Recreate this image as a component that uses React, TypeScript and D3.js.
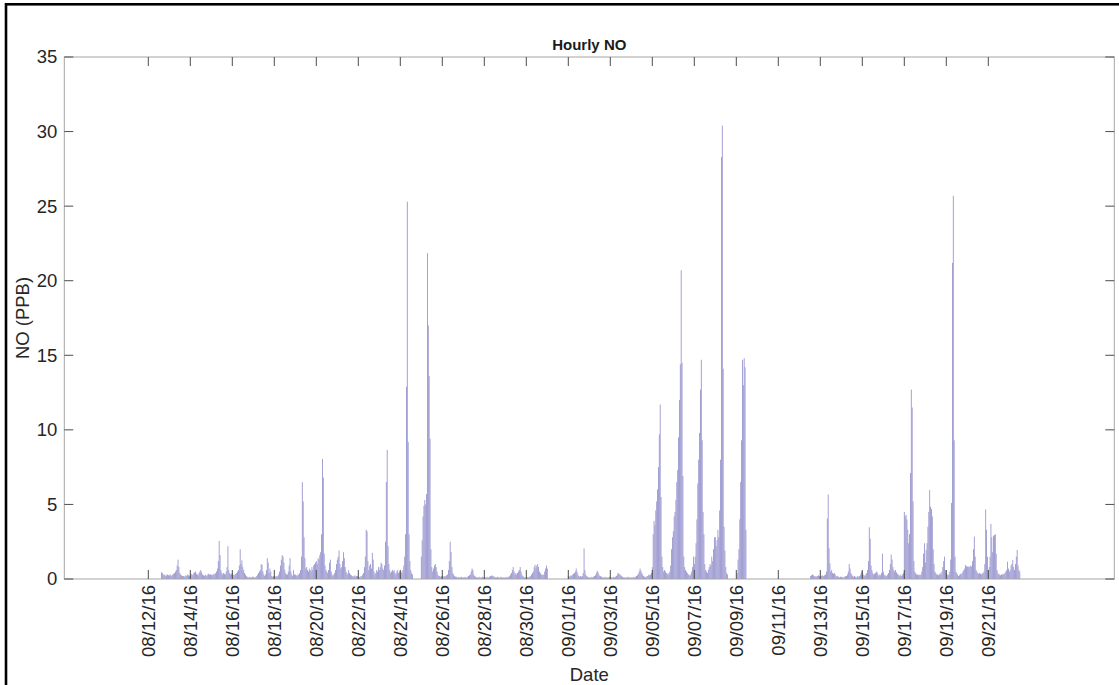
import React from "react";
import * as d3 from "d3";

const N = null;

// Hourly NO (ppb), 24 values per day (hour 0..23), null = no data
const aug12 = [N,N,N,N,N,N,N,N,N,N,N,N,N,N,N,0.45,0.4,0.3,0.25,0.3,0.2,0.25,0.3,0.25];
const aug13 = [0.25,0.3,0.2,0.25,0.3,0.35,0.4,0.5,0.6,0.9,1.3,0.8,0.4,0.3,0.25,0.2,0.2,0.15,0.2,0.25,0.2,0.3,0.25,0.2];
const aug14 = [0.3,0.35,0.25,0.3,0.4,0.45,0.5,0.35,0.3,0.25,0.4,0.5,0.6,0.45,0.3,0.25,0.2,0.3,0.25,0.2,0.3,0.35,0.3,0.3];
const aug15 = [0.3,0.25,0.3,0.35,0.3,0.4,0.5,0.7,1.2,2.55,1.6,0.6,0.4,0.3,0.4,0.35,0.3,0.5,0.8,2.2,0.6,0.4,0.3,0.35];
const aug16 = [0.4,0.3,0.25,0.3,0.35,0.4,0.5,0.6,0.9,2.0,1.0,1.25,0.8,0.6,0.4,0.3,0.2,0.15,0.1,0.1,0.15,0.1,0.1,0.15];
const aug17 = [0.15,0.1,0.1,0.15,0.2,0.3,0.4,0.5,0.6,1.0,0.95,0.5,0.3,0.2,0.3,0.6,1.4,1.1,0.4,0.7,0.5,0.2,0.15,0.2];
const aug18 = [0.2,0.15,0.2,0.15,0.2,0.3,0.5,0.9,1.3,1.6,1.5,1.1,0.6,0.4,0.3,0.3,0.5,0.9,1.4,0.5,0.3,0.2,0.6,0.3];
const aug19 = [0.3,0.25,0.2,0.3,0.3,0.4,0.6,1.5,6.5,5.2,2.8,1.4,0.7,0.8,0.6,0.5,0.7,0.6,0.5,0.8,0.6,0.9,1.0,1.1];
const aug20 = [1.2,1.0,1.4,1.3,1.6,1.8,3.0,8.05,6.8,1.7,0.9,0.6,0.5,0.4,0.6,1.1,1.3,0.5,0.3,0.2,0.3,0.4,0.6,1.0];
const aug21 = [1.3,1.5,1.9,1.0,0.7,0.8,1.2,1.8,1.4,0.8,0.5,0.4,0.3,0.6,0.4,0.3,0.25,0.2,0.15,0.2,0.25,0.15,0.2,0.2];
const aug22 = [0.1,0.15,0.1,0.2,0.2,0.3,0.4,0.8,1.5,3.3,3.2,1.2,0.6,0.9,1.0,0.7,1.75,1.3,0.5,0.3,0.4,0.6,0.5,0.8];
const aug23 = [0.6,0.8,1.1,1.0,0.7,0.6,0.9,2.5,6.5,8.65,2.2,1.0,0.6,0.4,0.5,0.6,0.5,0.6,0.4,0.3,0.5,0.6,0.4,0.5];
const aug24 = [0.4,0.5,0.4,0.6,0.9,1.5,3.0,12.9,25.3,9.2,3.0,1.2,0.6,0.4,0.3,N,N,N,N,N,N,N,N,N];
const aug25 = [1.5,2.6,4.2,4.9,5.3,5.0,5.7,21.85,17.0,13.6,9.4,2.0,0.8,0.5,0.7,0.9,1.0,0.8,0.5,0.3,0.2,0.2,0.15,0.2];
const aug26 = [0.2,0.15,0.2,0.15,0.2,0.25,0.3,0.6,1.2,2.5,1.8,0.8,0.4,0.3,0.2,0.15,0.15,0.1,0.1,0.15,0.1,0.1,0.15,0.1];
const aug27 = [0.1,0.1,0.15,0.1,0.1,0.15,0.2,0.25,0.3,0.5,0.7,0.6,0.3,0.2,0.15,0.1,0.1,0.1,0.15,0.1,0.1,0.1,0.15,0.1];
const aug28 = [0.1,0.1,0.1,0.15,0.1,0.1,0.15,0.2,0.2,0.25,0.2,0.15,0.15,0.1,0.1,0.15,0.1,0.1,0.1,0.15,0.1,0.1,0.1,0.1];
const aug29 = [0.1,0.1,0.15,0.1,0.15,0.2,0.3,0.4,0.6,0.8,0.5,0.3,0.4,0.3,0.4,0.5,0.6,0.8,0.5,0.3,0.2,0.15,0.1,0.1];
const aug30 = [0.1,0.1,0.15,0.1,0.15,0.2,0.3,0.4,0.5,0.8,0.95,0.7,0.9,1.0,0.8,0.5,0.4,0.3,0.3,0.25,0.3,0.5,0.7,0.9];
const aug31 = [0.7,N,N,N,N,N,N,N,N,N,N,N,N,N,N,N,N,N,N,N,N,N,N,N];
const sep01 = [0.2,0.15,0.2,0.25,0.2,0.3,0.35,0.4,0.5,0.7,0.5,0.3,0.2,0.15,0.2,0.15,0.2,0.4,2.05,0.6,0.3,0.2,0.15,0.1];
const sep02 = [0.1,0.1,0.1,0.15,0.1,0.15,0.2,0.25,0.4,0.55,0.45,0.3,0.2,0.2,0.15,0.1,0.1,0.1,0.15,0.1,0.1,0.1,0.1,0.15];
const sep03 = [0.1,0.1,0.1,0.1,0.15,0.1,0.15,0.2,0.3,0.4,0.35,0.3,0.25,0.2,0.15,0.1,0.1,0.1,0.1,0.1,0.15,0.1,0.1,0.1];
const sep04 = [0.1,0.1,0.1,0.15,0.1,0.15,0.2,0.25,0.35,0.5,0.7,0.55,0.4,0.3,0.2,0.15,0.1,0.15,0.2,0.2,0.3,0.25,0.3,0.4];
const sep05 = [0.8,3.0,3.9,3.6,4.6,5.2,6.0,7.5,9.7,11.7,5.5,1.5,0.8,0.5,0.6,0.5,0.4,0.3,0.4,0.3,0.5,0.9,2.0,2.8];
const sep06 = [3.2,4.2,4.5,5.3,6.5,7.3,9.5,12.0,14.4,20.7,14.5,6.9,1.5,0.8,0.6,0.5,0.4,0.3,0.3,0.2,0.3,0.5,0.8,1.5];
const sep07 = [1.0,1.5,2.4,4.0,6.4,8.0,9.8,12.7,14.7,9.3,4.5,3.0,1.0,0.6,0.5,0.4,0.6,0.8,1.0,0.9,1.5,1.2,2.0,2.8];
const sep08 = [2.8,2.2,2.6,3.3,2.8,4.6,8.0,28.3,30.4,14.1,3.5,1.9,0.8,0.4,0.3,N,N,N,N,N,N,N,N,N];
const sep09 = [N,0.4,1.3,2.0,4.0,6.5,9.3,14.7,13.0,14.8,14.2,3.3,N,N,N,N,N,N,N,N,N,N,N,N];
const sep12 = [N,N,N,N,N,N,N,N,N,N,N,N,N,0.2,0.25,0.3,0.25,0.2,0.15,0.2,0.15,0.2,0.25,0.2];
const sep13 = [0.15,0.2,0.25,0.2,0.2,0.25,0.3,0.5,4.06,5.67,2.06,1.05,0.5,0.6,0.4,0.35,0.4,0.3,0.2,0.15,0.2,0.15,0.1,0.15];
const sep14 = [0.15,0.1,0.15,0.1,0.15,0.2,0.2,0.3,0.5,1.0,0.7,0.4,0.3,0.2,0.15,0.2,0.15,0.1,0.15,0.2,0.15,0.2,0.3,0.5];
const sep15 = [0.5,0.3,0.25,0.2,0.3,0.4,0.6,1.2,3.47,2.7,0.9,0.6,0.4,0.3,0.35,0.4,0.5,0.45,0.3,0.2,0.3,0.25,0.4,1.7];
const sep16 = [0.5,0.3,0.2,0.25,0.2,0.3,0.4,0.6,1.0,1.65,1.3,0.8,0.6,0.5,0.6,0.45,0.35,0.3,0.25,0.2,0.3,0.2,0.3,0.4];
const sep17 = [4.5,4.2,4.3,4.0,3.3,2.4,3.0,7.1,12.7,11.5,5.2,1.2,0.5,0.4,0.3,0.3,0.25,0.3,0.25,0.3,0.5,0.8,1.7,2.4];
const sep18 = [1.1,1.95,2.4,3.5,4.5,5.97,4.85,4.7,4.2,2.0,1.0,0.5,0.4,0.3,0.3,0.25,0.3,0.4,0.3,0.5,0.8,1.2,1.5,0.6];
const sep19 = [0.4,0.3,0.25,0.3,0.5,1.3,5.1,21.2,25.7,9.3,1.5,0.5,0.4,0.3,0.2,0.25,0.35,0.3,0.4,0.5,0.6,0.7,0.94,0.85];
const sep20 = [0.83,0.85,0.8,0.83,0.9,0.85,1.2,2.0,2.84,1.5,0.6,0.5,0.4,0.35,0.4,0.35,0.3,0.4,0.35,0.5,1.0,4.67,3.3,1.5];
const sep21 = [0.6,0.8,1.5,3.7,2.8,1.8,2.9,2.95,3.0,1.7,0.6,0.4,0.3,0.3,0.25,0.3,0.3,0.35,0.3,0.4,0.5,0.6,1.16,0.7];
const sep22 = [0.5,0.6,0.9,1.0,1.27,0.8,0.6,1.0,1.5,1.95,0.9,0.6,0.5,N,N,N,N,N,N,N,N,N,N,N];

const dayDates = [
  "2016-08-12","2016-08-13","2016-08-14","2016-08-15","2016-08-16","2016-08-17","2016-08-18",
  "2016-08-19","2016-08-20","2016-08-21","2016-08-22","2016-08-23","2016-08-24","2016-08-25",
  "2016-08-26","2016-08-27","2016-08-28","2016-08-29","2016-08-30","2016-08-31","2016-09-01",
  "2016-09-02","2016-09-03","2016-09-04","2016-09-05","2016-09-06","2016-09-07","2016-09-08",
  "2016-09-09","2016-09-12","2016-09-13","2016-09-14","2016-09-15","2016-09-16","2016-09-17",
  "2016-09-18","2016-09-19","2016-09-20","2016-09-21","2016-09-22",
];
const dayValues = [
  aug12,aug13,aug14,aug15,aug16,aug17,aug18,aug19,aug20,aug21,aug22,aug23,aug24,aug25,
  aug26,aug27,aug28,aug29,aug30,aug31,sep01,sep02,sep03,sep04,sep05,sep06,sep07,sep08,
  sep09,sep12,sep13,sep14,sep15,sep16,sep17,sep18,sep19,sep20,sep21,sep22,
];

const xDomain = ["2016-08-08", "2016-09-27"];
const xTickDates = [
  "2016-08-12","2016-08-14","2016-08-16","2016-08-18","2016-08-20","2016-08-22","2016-08-24",
  "2016-08-26","2016-08-28","2016-08-30","2016-09-01","2016-09-03","2016-09-05","2016-09-07",
  "2016-09-09","2016-09-11","2016-09-13","2016-09-15","2016-09-17","2016-09-19","2016-09-21",
];
const yTicks = [0, 5, 10, 15, 20, 25, 30, 35];

const W = 1119, H = 685;
const L = 64.3, R = 1114.3, T = 57, B = 579;
const FONT = "'Liberation Sans', Arial, Helvetica, sans-serif";

export default function App() {
  const parse = (s: string) => new Date(s + "T00:00:00Z");
  const x = d3.scaleUtc().domain(xDomain.map(parse)).range([L, R]);
  const y = d3.scaleLinear().domain([0, 35]).range([B, T]);
  const fmt = d3.utcFormat("%m/%d/%y");
  const hourMs = 3600 * 1000;
  const bw = x(new Date(parse(xDomain[0]).getTime() + hourMs)) - x(parse(xDomain[0]));

  const bars: { t: Date; v: number }[] = [];
  dayDates.forEach((ds, i) => {
    const base = parse(ds).getTime();
    dayValues[i].forEach((v, h) => {
      if (v !== null && v !== undefined) bars.push({ t: new Date(base + h * hourMs), v: v as number });
    });
  });

  const tickLen = 9;
  return (
    <svg width={W} height={H} style={{ position: "absolute", left: 0, top: 0, background: "#fff" }}>
      <rect x={0} y={0} width={W} height={H} fill="#fff" />
      <rect x={6} y={4.3} width={W + 20} height={H + 20} fill="none" stroke="#000" strokeWidth={2.6} />
      <text x={(L + R) / 2} y={50} textAnchor="middle" fontFamily={FONT} fontWeight="bold" fontSize={15} fill="#1a1a1a">Hourly NO</text>
      {/* bars */}
      <g>
        {bars.map((b, i) => (
          <rect key={i} x={x(b.t) - bw / 2} y={y(b.v)} width={bw} height={B - y(b.v)} fill="#9895cf" />
        ))}
      </g>
      {/* box */}
      <rect x={L} y={T} width={R - L} height={B - T} fill="none" stroke="#a6a6a6" strokeWidth={1} />
      {/* x ticks */}
      {xTickDates.map((ds) => {
        const xx = x(parse(ds));
        return (
          <g key={ds}>
            <line x1={xx} x2={xx} y1={B} y2={B - tickLen} stroke="#4d4d4d" strokeWidth={1} />
            <line x1={xx} x2={xx} y1={T} y2={T + tickLen} stroke="#4d4d4d" strokeWidth={1} />
            <text transform={`translate(${xx},${B + 6}) rotate(-90)`} dy="0.35em" textAnchor="end" fontFamily={FONT} fontSize={18.5} fill="#262626">{fmt(parse(ds))}</text>
          </g>
        );
      })}
      {/* y ticks */}
      {yTicks.map((v) => (
        <g key={v}>
          <line x1={L} x2={L + tickLen} y1={y(v)} y2={y(v)} stroke="#4d4d4d" strokeWidth={1} />
          <line x1={R} x2={R - tickLen} y1={y(v)} y2={y(v)} stroke="#4d4d4d" strokeWidth={1} />
          <text x={L - 7} y={y(v)} dy="0.35em" textAnchor="end" fontFamily={FONT} fontSize={18.5} fill="#262626">{v}</text>
        </g>
      ))}
      <text transform={`translate(28.5,${(T + B) / 2}) rotate(-90)`} textAnchor="middle" fontFamily={FONT} fontSize={18.5} fill="#262626">NO (PPB)</text>
      <text x={(L + R) / 2} y={681} textAnchor="middle" fontFamily={FONT} fontSize={18.5} fill="#262626">Date</text>
    </svg>
  );
}
